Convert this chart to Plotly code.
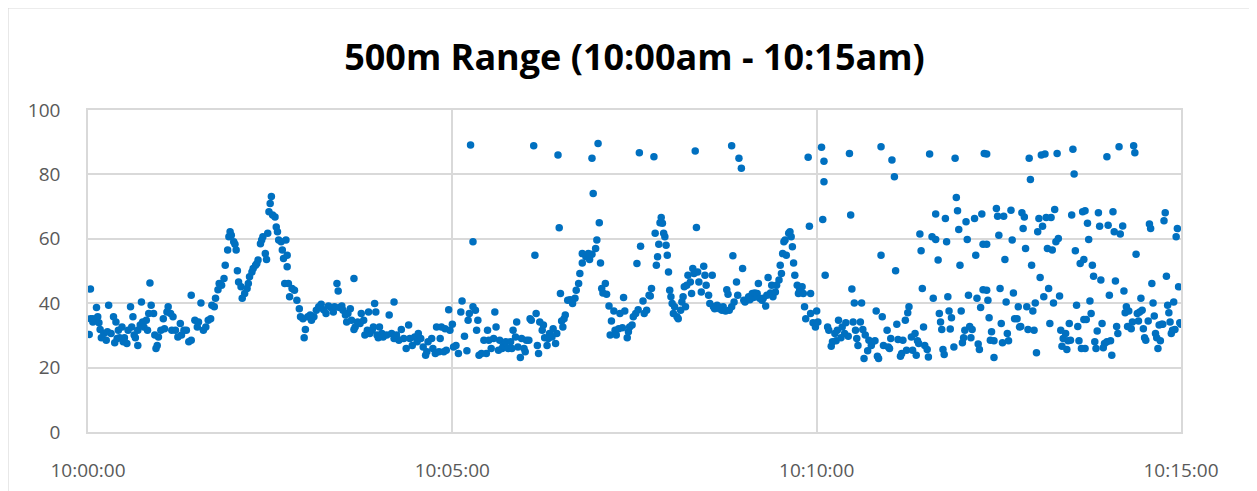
import plotly.graph_objects as go

# Time in seconds after 10:00:00, and measured value
seconds = [
 1,2,2,4,4,7,8,9,10,11,13,15,16,17,19,21,22,23,24,25,26,28,29,30,32,33,35,36,37,38,39,41,41,43,44,45,46,48,49,50,51,52,54,55,56,57,58,60,62,63,65,66,68,69,70,72,74,76,77,79,
 81,83,85,85,88,90,91,93,95,97,99,101,102,104,105,107,108,110,112,113,115,116,117,118,120,121,122,123,124,126,127,129,131,132,133,135,136,138,139,140,142,143,144,146,147,148,149,150,151,152,154,155,156,157,159,160,161,162,
 163,164,164,165,166,168,170,172,174,175,177,178,179,181,183,184,186,188,190,192,194,196,198,200,202,203,205,206,207,209,210,212,213,214,216,217,219,219,220,222,224,225,227,228,230,231,232,234,235,236,237,238,239,240,242,243,
 246,248,250,252,252,254,256,258,260,262,264,265,267,269,271,272,274,276,278,279,280,283,284,286,287,289,290,291,293,294,295,297,298,300,301,303,305,307,308,310,312,313,314,315,317,317,319,320,321,322,324,326,
 328,329,330,332,334,335,336,338,339,341,342,344,346,348,349,350,352,353,354,356,357,359,360,361,363,364,365,367,368,369,370,371,372,374,375,376,378,379,380,382,383,385,386,387,388,389,390,391,392,393,395,397,399,401,402,404,405,407,407,
 410,412,413,415,415,416,418,419,420,421,422,423,424,426,427,429,430,431,433,434,435,437,438,440,441,442,444,445,446,448,449,451,452,453,454,455,457,458,460,462,463,464,466,467,468,469,470,471,472,473,474,475,476,477,478,479,480,481,482,483,485,486,488,489,490,491,
 492,493,494,496,497,498,499,500,501,502,503,505,507,508,509,511,512,514,515,516,518,519,520,522,523,525,526,527,528,530,530,531,532,534,535,536,538,539,540,541,542,544,545,547,548,549,551,552,553,555,556,558,559,560,562,563,564,566,567,569,570,571,572,573,
 574,575,577,578,579,580,581,582,584,585,586,588,589,590,591,593,594,595,595,597,599,600,601,604,605,606,606,607,609,610,612,613,615,616,617,618,620,621,623,624,626,627,628,629,630,631,632,633,634,636,637,638,639,640,642,643,645,646,648,649,650,651,653,653,654,655,
 658,659,660,661,662,664,665,666,667,669,670,671,673,674,675,676,678,679,681,682,683,684,685,686,687,688,689,691,692,693,695,696,698,698,700,701,702,703,704,705,706,707,708,709,710,711,713,714,715,716,717,718,719,720,721,722,723,724,725,726,727,728,730,731,732,733,734,735,736,737,737,738,
 740,740,740,741,742,743,744,746,746,748,749,750,751,752,753,754,755,756,757,758,760,761,762,763,765,766,767,768,769,770,771,772,773,774,775,776,777,778,779,780,781,782,783,784,785,786,787,788,789,790,791,792,793,794,795,796,797,798,799,800,801,802,803,805,806,807,808,809,810,811,812,813,814,815,816,817,818,819,820,820,
 821,821,822,823,824,825,826,827,828,829,830,831,832,833,834,835,836,837,839,839,840,841,842,843,844,845,846,847,848,849,850,852,853,854,855,856,857,859,860,861,862,863,864,865,866,867,868,869,870,871,873,874,875,876,877,878,879,880,881,882,883,884,885,886,887,888,889,890,891,892,893,894,895,896,897,898,899,900
]
values = [
 30.3,44.4,35.2,34.2,35.2,38.7,35.8,33.9,31.8,29.3,30.6,28.5,31.1,39.4,30.6,35.8,27.7,34.2,29.0,31.6,29.3,32.6,28.0,29.3,27.5,31.6,38.9,32.6,35.8,30.1,29.3,31.6,26.9,33.2,40.4,34.2,32.6,34.7,31.6,36.8,46.3,39.4,36.8,30.1,25.9,26.9,29.5,31.6,35.2,32.1,37.3,38.9,36.8,31.6,35.8,31.6,29.5,33.7,30.1,31.6,
 31.6,28.0,28.5,42.5,34.7,32.6,34.2,40.1,31.6,32.6,34.7,35.2,39.4,38.9,41.5,44.2,46.1,45.6,47.7,51.8,56.5,60.6,62.2,61.1,59.1,58.3,56.5,50.1,46.6,45.1,41.5,43.0,44.6,46.1,48.2,49.7,50.8,51.8,52.3,53.4,58.5,59.6,60.6,55.4,53.6,61.7,68.4,71.0,73.1,67.4,66.8,63.7,62.2,59.6,59.1,56.5,53.9,46.1,
 59.6,54.9,51.3,46.1,42.0,44.6,44.0,40.9,38.3,35.8,35.2,29.3,31.8,35.8,36.3,34.7,35.8,37.8,38.9,39.7,38.0,36.8,39.1,38.7,37.3,38.9,46.1,43.8,38.7,39.1,37.8,36.3,34.2,36.8,38.3,34.7,31.8,47.7,32.6,34.2,33.7,36.8,34.7,30.1,31.6,37.3,30.6,31.6,32.6,39.9,37.3,30.1,29.3,32.6,30.6,29.5,
 30.1,36.3,30.6,29.0,40.4,30.1,28.5,31.8,29.0,25.9,33.2,29.0,26.9,29.5,28.0,30.6,29.0,26.4,23.8,24.9,28.0,29.0,25.9,24.4,32.6,24.9,29.0,32.6,24.9,32.1,25.4,38.0,31.6,33.5,26.4,26.9,24.4,37.3,40.7,29.7,25.2,34.7,36.8,89.1,59.1,38.9,37.8,31.6,34.7,23.8,24.4,28.5,
 24.4,31.6,28.5,25.9,29.0,37.3,32.6,25.4,28.5,25.9,26.9,28.0,25.9,28.0,25.9,31.6,29.5,34.2,26.4,23.1,29.0,25.9,24.9,28.5,28.5,35.2,34.7,88.9,54.9,36.8,26.9,24.4,34.2,31.6,33.2,29.3,26.9,29.0,30.6,29.5,32.1,27.5,30.6,86.0,63.4,43.0,34.5,32.6,35.2,36.3,40.9,41.1,39.9,41.5,44.0,46.1,49.2,52.5,55.4,
 54.4,55.4,53.6,85.0,55.2,74.1,57.0,59.6,89.6,65.0,52.5,44.6,43.2,46.1,42.8,39.1,30.1,34.5,37.6,31.6,30.1,32.1,36.8,32.4,41.8,37.6,29.3,31.1,32.6,33.2,35.8,36.8,52.3,38.0,86.7,57.7,40.7,36.8,37.8,42.5,42.2,44.6,85.5,61.7,51.8,54.4,58.3,65.0,66.6,64.8,61.7,60.6,58.0,54.9,49.7,44.0,42.0,39.9,36.8,38.9,35.8,35.2,37.8,40.4,42.0,45.1,
 38.9,45.6,48.7,46.6,43.0,50.8,49.2,87.3,63.5,49.7,46.6,43.5,51.5,48.7,45.6,42.5,39.9,48.7,38.9,38.3,39.4,38.9,38.3,37.8,38.9,37.6,44.2,42.8,37.8,38.9,88.9,54.7,40.4,46.6,42.5,85.0,81.9,50.8,40.9,40.4,40.9,42.0,41.1,43.0,41.8,43.2,43.0,46.1,41.5,40.9,41.5,39.1,42.5,48.0,43.2,45.6,42.0,43.5,45.6,47.2,51.8,49.2,55.4,59.1,
 59.6,54.9,61.7,62.2,60.6,57.5,52.5,48.7,45.6,43.0,44.0,45.1,43.0,38.9,35.2,85.3,63.9,43.0,36.8,33.9,32.6,37.6,34.2,88.4,66.0,84.1,77.7,48.7,32.6,31.6,26.6,28.0,30.6,28.3,31.6,34.7,29.3,32.6,30.6,33.9,29.7,86.5,67.4,44.4,34.2,40.1,31.6,29.0,26.9,34.2,40.1,31.8,22.8,30.1,25.2,28.5,26.9,28.0,28.3,37.6,23.5,22.8,88.6,54.9,35.8,26.9,
 31.6,26.4,25.9,29.0,84.5,79.3,50.1,33.5,28.7,23.5,24.4,28.5,34.7,25.4,37.0,38.9,29.5,25.4,30.6,23.8,28.3,27.5,61.5,56.3,44.6,32.6,26.9,25.6,23.3,86.3,60.6,41.5,59.8,67.7,53.4,36.8,34.2,31.8,25.6,24.1,66.3,59.1,42.0,37.6,32.0,35.5,26.4,85.0,72.8,68.7,62.9,51.8,37.6,27.7,29.3,31.6,65.3,59.8,42.5,32.8,29.3,31.8,66.3,54.9,41.5,27.3,25.6,38.7,67.7,58.3,44.2,86.5,
 86.3,44.0,58.3,40.9,35.5,28.5,31.1,28.3,23.1,69.4,67.0,61.1,44.6,33.7,27.7,67.0,53.6,40.4,30.6,28.3,68.9,59.6,43.2,35.2,35.2,38.9,32.6,32.8,68.1,63.2,66.8,57.0,38.9,31.8,85.0,78.4,51.8,37.6,31.6,40.1,24.6,62.2,66.3,48.0,86.0,63.9,42.0,86.3,66.6,57.0,44.6,33.7,66.6,56.5,40.1,69.1,59.1,86.5,60.1,42.2,31.6,26.6,29.0,30.6,25.6,28.3,33.7,28.5,67.4,87.8,80.1,56.3,39.4,32.8,28.3,52.3,25.9,68.4,34.9,53.6,
 68.7,25.9,34.9,64.8,59.8,40.7,36.8,51.8,48.4,28.0,25.9,31.4,68.1,63.9,47.2,33.7,26.2,27.5,28.0,85.5,64.2,42.5,28.3,23.8,68.4,62.2,46.9,32.8,30.6,88.6,61.5,64.0,43.8,37.0,38.9,32.8,37.6,32.1,34.2,88.9,86.7,55.2,36.8,34.5,37.3,41.5,37.8,32.1,29.3,28.5,34.5,64.6,63.2,46.1,40.1,36.0,30.6,29.3,25.9,33.2,28.3,33.5,33.5,65.6,68.1,48.4,39.4,37.0,34.2,30.6,31.6,40.4,31.8,60.6,63.2,45.1,33.9,33.5,33.8
]
n = min(len(seconds), len(values))
seconds = seconds[:n]
values = values[:n]

x_tick_vals = [0, 300, 600, 900]
x_tick_text = ["10:00:00", "10:05:00", "10:10:00", "10:15:00"]
y_tick_vals = [0, 20, 40, 60, 80, 100]

title_text = "<b>500m Range (10:00am - 10:15am)</b>"

W, H = 1249, 483
L, T, PW, PH = 80, 102, 1093, 322

fig = go.Figure()
fig.add_trace(go.Scatter(
    x=seconds, y=values, mode="markers",
    marker=dict(color="#0070C0", size=7.5, line=dict(width=0)),
    showlegend=False, hoverinfo="x+y",
))

grid = "#d9d9d9"
font_family = "Open Sans, Noto Sans, DejaVu Sans, sans-serif"

fig.update_layout(
    width=W, height=H,
    margin=dict(l=L, r=W - L - PW, t=T, b=H - T - PH),
    paper_bgcolor="white", plot_bgcolor="white",
    title=dict(text=title_text, x=0.5, xanchor="center", xref="paper",
               y=1 - 49/H, yanchor="middle",
               font=dict(family=font_family, size=36, color="black")),
    font=dict(family=font_family, color="#595959"),
    xaxis=dict(range=[0, 900], tickvals=x_tick_vals, ticktext=x_tick_text,
               showgrid=True, gridcolor=grid, gridwidth=1.5,
               showline=True, linecolor=grid, linewidth=1.5, mirror=True,
               zeroline=False, ticks="", tickfont=dict(size=19, color="#595959"),
               ticklabelstandoff=20, automargin=False),
    yaxis=dict(range=[0, 100], tickvals=y_tick_vals,
               showgrid=True, gridcolor=grid, gridwidth=1.5,
               showline=True, linecolor=grid, linewidth=1.5, mirror=True,
               zeroline=False, ticks="", tickfont=dict(size=19, color="#595959"),
               ticklabelstandoff=22, automargin=False),
    shapes=[dict(type="rect", xref="paper", yref="paper",
                 x0=(0 - L)/PW, x1=(1242 - L)/PW,
                 y0=(T + PH - H - 2)/PH, y1=(T + PH - 0)/PH,
                 line=dict(color="#d9d9d9", width=1.2), fillcolor="rgba(0,0,0,0)",
                 layer="below")],
)

fig.write_html("out.html")
